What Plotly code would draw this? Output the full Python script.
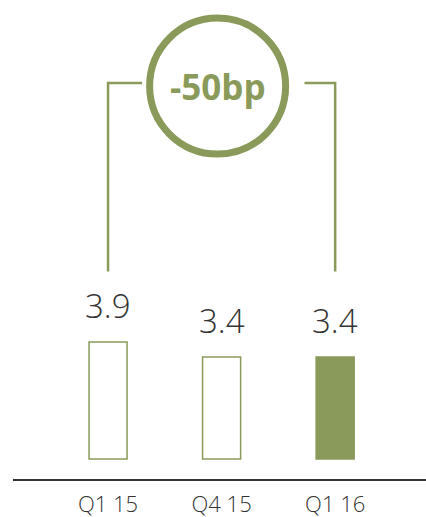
import plotly.graph_objects as go

categories = ["Q1 15", "Q4 15", "Q1 16"]
values = [3.9, 3.4, 3.4]
value_labels = ["3.9", "3.4", "3.4"]
filled = [False, False, True]
change_label = "-50bp"

GREEN = "#8A9A5B"
DARK = "#333333"
FONT = "Open Sans"

fig = go.Figure()
fig.add_trace(go.Bar(
    x=categories, y=values, width=0.335,
    marker=dict(color=[GREEN if f else "white" for f in filled],
                line=dict(color=GREEN, width=1.5)),
    hoverinfo="skip", showlegend=False,
))

for c, v, t in zip(categories, values, value_labels):
    fig.add_annotation(x=c, y=v, text=t, showarrow=False, yanchor="bottom",
                       yshift=12, font=dict(family=FONT, size=33, color=DARK, weight=300))

# bracket from first to last category
top_y = 12.53
bottom_y = 6.25
line = dict(color=GREEN, width=2.5)
fig.add_shape(type="path", xref="x", yref="y",
              path=f"M 0,{bottom_y} L 0,{top_y} L 0.3,{top_y}", line=line)
fig.add_shape(type="path", xref="x", yref="y",
              path=f"M 2,{bottom_y} L 2,{top_y} L 1.73,{top_y}", line=line)
# circle
fig.add_shape(type="circle", xref="x", yref="y", xsizemode="pixel", ysizemode="pixel",
              xanchor=0.965, yanchor=12.43, x0=-68, x1=68, y0=-68, y1=68,
              line=dict(color=GREEN, width=7), fillcolor="white")
fig.add_annotation(x=0.965, y=12.43, text=f"<b>{change_label}</b>", showarrow=False,
                   font=dict(family=FONT, size=35, color=GREEN))

fig.update_layout(
    width=426, height=517, margin=dict(l=13, r=0, t=0, b=38),
    paper_bgcolor="white", plot_bgcolor="white",
    xaxis=dict(range=[-0.837, 2.80], showline=True, linecolor=DARK, linewidth=2,
               showgrid=False, zeroline=False, ticks="", ticklabelstandoff=5,
               automargin=False,
               tickfont=dict(family=FONT, size=22, color=DARK, weight=300)),
    yaxis=dict(range=[-0.667, 15.3], visible=False, showgrid=False, zeroline=False,
               automargin=False),
)
fig.write_html("out.html")
